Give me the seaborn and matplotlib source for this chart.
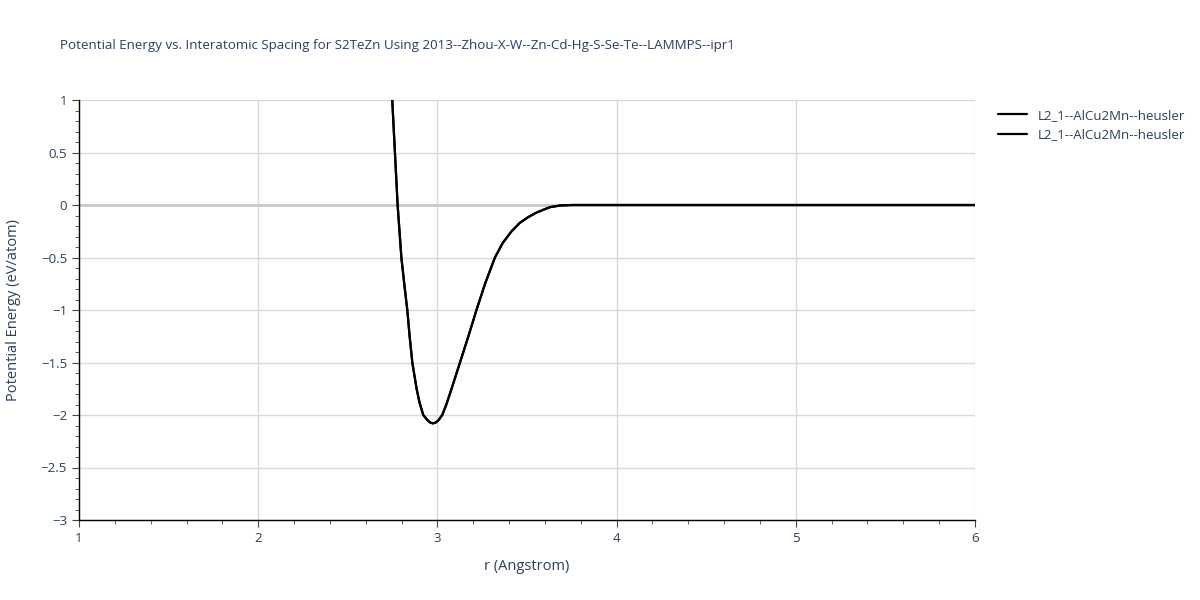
import matplotlib
matplotlib.use("Agg")
import matplotlib.pyplot as plt
from matplotlib.ticker import MultipleLocator, FuncFormatter
import seaborn as sns
import pandas as pd

# values
r = [2.748, 2.763, 2.778, 2.799, 2.815, 2.832, 2.845, 2.860, 2.884, 2.900,
     2.921, 2.945, 2.960, 2.976, 2.992, 3.006, 3.027, 3.050, 3.079, 3.126,
     3.173, 3.218, 3.266, 3.321, 3.365, 3.414, 3.460, 3.507, 3.550, 3.591,
     3.630, 3.684, 3.750, 4.0, 4.5, 5.0, 5.5, 6.0]
energy = [1.0, 0.5, 0.0, -0.5, -0.75, -1.0, -1.25, -1.5, -1.75, -1.88,
          -2.0, -2.05, -2.072, -2.08, -2.07, -2.05, -2.0, -1.9, -1.75, -1.5,
          -1.25, -1.0, -0.75, -0.5, -0.36, -0.25, -0.17, -0.115, -0.075, -0.045,
          -0.02, -0.005, 0.0, 0.0, 0.0, 0.0, 0.0, 0.0]
series = ["L2_1--AlCu2Mn--heusler", "L2_1--AlCu2Mn--heusler"]

text_col = "#2a3f5f"
sns.set_style("white")
plt.rcParams["font.family"] = ["Open Sans", "DejaVu Sans"]

fig = plt.figure(figsize=(12, 6), dpi=100)
ax = fig.add_axes([79 / 1200, 80 / 600, 896 / 1200, 420 / 600])

df = pd.DataFrame({"r": r, "E": energy})
for name in series:
    sns.lineplot(data=df, x="r", y="E", ax=ax, color="black", lw=1.6,
                 sort=False, estimator=None, label=name, legend=False)

ax.set_xlim(1, 6)
ax.set_ylim(-3, 1)
ax.xaxis.set_major_locator(MultipleLocator(1))
ax.xaxis.set_minor_locator(MultipleLocator(0.2))
ax.yaxis.set_major_locator(MultipleLocator(0.5))
ax.yaxis.set_minor_locator(MultipleLocator(0.1))
fmt = FuncFormatter(lambda v, p: f"{v:g}".replace("-", "\u2212"))
ax.xaxis.set_major_formatter(fmt)
ax.yaxis.set_major_formatter(fmt)
ax.grid(True, which="major", color="#d9d9d9", lw=1)
ax.axhline(0, color="#c8c8c8", lw=2, zorder=1)
ax.tick_params(which="both", direction="out", colors="#444444", labelcolor=text_col,
               labelsize=9.5, bottom=True, left=True)
ax.tick_params(which="major", length=5)
ax.tick_params(which="minor", length=3)
for s in ["top", "right"]:
    ax.spines[s].set_visible(False)
for s in ["left", "bottom"]:
    ax.spines[s].set_color("black")
    ax.spines[s].set_linewidth(1)

ax.set_xlabel("r (Angstrom)", color=text_col, fontsize=10.5, labelpad=10)
ax.set_ylabel("Potential Energy (eV/atom)", color=text_col, fontsize=10.5, labelpad=14)
fig.text(60 / 1200, 1 - 46 / 600, "Potential Energy vs. Interatomic Spacing for S2TeZn Using 2013--Zhou-X-W--Zn-Cd-Hg-S-Se-Te--LAMMPS--ipr1",
         color=text_col, fontsize=9.6, va="center", ha="left")

handles, labels = ax.get_legend_handles_labels()
fig.legend(handles, labels, loc="upper left", bbox_to_anchor=(986 / 1200, 1 - 97 / 600),
           frameon=False, fontsize=9.5, labelcolor=text_col, handlelength=2.2)

fig.savefig("out.png", dpi=100)
